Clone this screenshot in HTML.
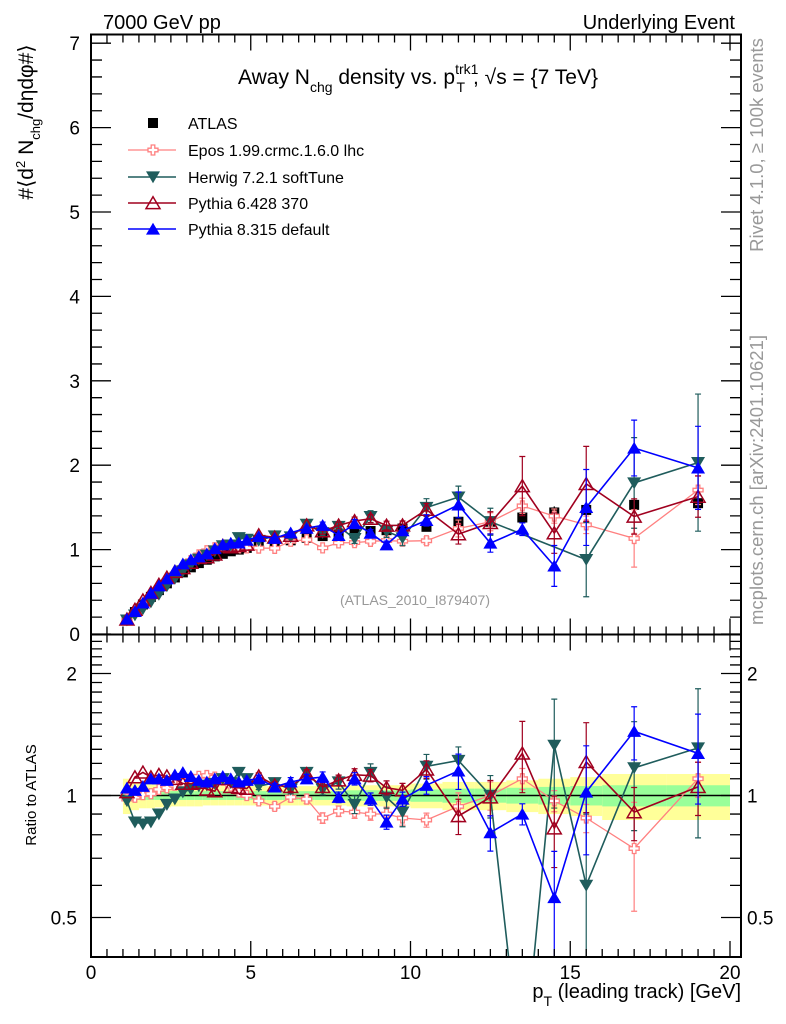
<!DOCTYPE html>
<html><head><meta charset="utf-8"><style>
html,body{margin:0;padding:0;background:#fff;overflow:hidden}
svg{display:block}
text{font-family:"Liberation Sans",sans-serif}
</style></head><body>
<svg id="chart" width="786" height="1024" viewBox="0 0 786 1024" xmlns="http://www.w3.org/2000/svg">
<defs>
<clipPath id="mainClip"><rect x="91" y="34.5" width="650" height="600"/></clipPath>
<clipPath id="ratioClip"><rect x="91" y="634" width="650" height="323"/></clipPath>
</defs>
<g id="bands"></g>
<g id="series"></g>
<g id="axes"></g>
<text x="103" y="29" font-size="20">7000 GeV pp</text>
<text x="735" y="29" font-size="20" text-anchor="end">Underlying Event</text>
<text x="418" y="84" font-size="21" text-anchor="middle">Away N<tspan font-size="14" dy="8">chg</tspan><tspan dy="-8"> density vs. p</tspan><tspan font-size="14" dy="-10">trk1</tspan><tspan font-size="14" dx="-22" dy="18">T</tspan><tspan dy="-8" dx="8">, √s = {7 TeV}</tspan></text>
<text transform="translate(33,122) rotate(-90)" font-size="21" text-anchor="middle">#⟨d<tspan font-size="13" dy="-8">2</tspan><tspan dy="8"> N</tspan><tspan font-size="13" dy="7">chg</tspan><tspan dy="-7">/dηdφ#⟩</tspan></text>
<text transform="translate(36,795) rotate(-90)" font-size="15" text-anchor="middle">Ratio to ATLAS</text>
<text x="741" y="998" font-size="20" text-anchor="end">p<tspan font-size="14" dy="8">T</tspan><tspan dy="-8"> (leading track) [GeV]</tspan></text>
<text transform="translate(763,145) rotate(-90)" font-size="18.5" fill="#999" text-anchor="middle">Rivet 4.1.0, ≥ 100k events</text>
<text transform="translate(763,480) rotate(-90)" font-size="18.5" fill="#999" text-anchor="middle">mcplots.cern.ch [arXiv:2401.10621]</text>
<text x="415" y="605" font-size="14" fill="#999" text-anchor="middle">(ATLAS_2010_I879407)</text>
<g id="legend"></g>
</svg>
<script>
const ptBins = [1.125,1.375,1.625,1.875,2.125,2.375,2.625,2.875,3.125,3.375,3.625,3.875,4.125,4.375,4.625,4.875,5.25,5.75,6.25,6.75,7.25,7.75,8.25,8.75,9.25,9.75,10.5,11.5,12.5,13.5,14.5,15.5,17,19];
const binHalfWidths = [0.125,0.125,0.125,0.125,0.125,0.125,0.125,0.125,0.125,0.125,0.125,0.125,0.125,0.125,0.125,0.125,0.25,0.25,0.25,0.25,0.25,0.25,0.25,0.25,0.25,0.25,0.5,0.5,0.5,0.5,0.5,0.5,1,1];
const atlasValues = [0.17,0.26,0.35,0.44,0.52,0.60,0.67,0.73,0.79,0.84,0.88,0.92,0.95,0.98,1.00,1.02,1.05,1.08,1.11,1.14,1.16,1.18,1.19,1.22,1.23,1.25,1.27,1.33,1.33,1.38,1.44,1.47,1.53,1.55];
const atlasTotalRelErr = [0.10,0.08,0.07,0.07,0.065,0.065,0.06,0.06,0.06,0.06,0.055,0.055,0.055,0.055,0.055,0.055,0.055,0.055,0.055,0.055,0.055,0.055,0.06,0.06,0.06,0.06,0.07,0.08,0.08,0.09,0.10,0.11,0.13,0.13];
const atlasStatRelErr = [0.03,0.025,0.025,0.025,0.025,0.025,0.025,0.025,0.025,0.025,0.025,0.025,0.025,0.025,0.025,0.025,0.025,0.025,0.025,0.025,0.025,0.025,0.03,0.03,0.03,0.03,0.035,0.04,0.04,0.045,0.05,0.055,0.06,0.06];
const eposRatio = [0.98,0.99,1.005,1.01,1.035,1.045,1.06,1.08,1.10,1.115,1.12,1.11,1.09,1.055,1.02,1.0,0.97,0.94,0.99,0.98,0.88,0.915,0.91,0.90,0.90,0.88,0.87,0.94,1.0,1.1,0.97,0.88,0.74,1.1];
const herwigRatio = [0.97,0.86,0.85,0.86,0.90,0.95,0.98,1.02,1.035,1.055,1.06,1.07,1.10,1.075,1.14,1.10,1.055,1.075,1.035,1.14,1.035,1.08,0.95,1.14,0.99,0.91,1.18,1.22,1.0,0.2,1.33,0.6,1.17,1.31];
const herwigShownInMain = [1,1,1,1,1,1,1,1,1,1,1,1,1,1,1,1,1,1,1,1,1,1,1,1,1,1,1,1,1,0,0,1,1,1];
const pythia6Ratio = [1.02,1.11,1.14,1.11,1.125,1.115,1.10,1.07,1.07,1.075,1.035,1.025,1.10,1.05,1.045,1.04,1.115,1.06,1.05,1.13,1.05,1.09,1.125,1.12,1.045,1.03,1.16,0.89,0.99,1.27,0.83,1.21,0.91,1.05];
const pythia8Ratio = [1.044,1.03,1.054,1.10,1.10,1.09,1.125,1.14,1.115,1.09,1.08,1.10,1.115,1.10,1.08,1.09,1.10,1.05,1.08,1.10,1.11,0.99,1.10,0.98,0.86,0.98,1.06,1.15,0.81,0.9,0.56,1.02,1.44,1.27];
const eposRelErr = [0.015,0.015,0.015,0.015,0.015,0.015,0.015,0.015,0.015,0.015,0.015,0.015,0.015,0.015,0.015,0.015,0.02,0.02,0.025,0.025,0.03,0.03,0.035,0.035,0.04,0.04,0.04,0.08,0.08,0.06,0.06,0.08,0.3,0.1];
const herwigRelErr = [0.015,0.015,0.015,0.015,0.015,0.015,0.015,0.015,0.015,0.015,0.015,0.015,0.015,0.015,0.015,0.015,0.02,0.02,0.025,0.025,0.03,0.04,0.05,0.05,0.06,0.08,0.07,0.08,0.12,0.3,0.3,0.5,0.3,0.4];
const pythia6RelErr = [0.015,0.015,0.015,0.015,0.015,0.015,0.015,0.015,0.015,0.015,0.015,0.015,0.015,0.015,0.015,0.015,0.02,0.02,0.025,0.025,0.03,0.03,0.035,0.035,0.04,0.04,0.05,0.1,0.1,0.2,0.2,0.25,0.15,0.15];
const pythia8RelErr = [0.015,0.015,0.015,0.015,0.015,0.015,0.015,0.015,0.015,0.015,0.015,0.015,0.015,0.015,0.015,0.015,0.02,0.02,0.025,0.025,0.03,0.03,0.035,0.035,0.04,0.04,0.05,0.1,0.1,0.06,0.3,0.3,0.15,0.25];
const xTickLabels = ["0","5","10","15","20"];
const yTickLabels = ["0","1","2","3","4","5","6","7"];
const ratioTickLabels = ["0.5","1","2"];

const NS = "http://www.w3.org/2000/svg";
const X0 = 91, XS = 31.95, Y0 = 634, YS = 84.4, R1 = 795.5, RS = 122;
const xPos = p => X0 + p * XS;
const yMain = v => Y0 - v * YS;
const yRatio = r => R1 - RS * Math.log2(Math.max(r, 0.01));
function mk(tag, attrs, parent) {
  const e = document.createElementNS(NS, tag);
  for (const k in attrs) e.setAttribute(k, attrs[k]);
  parent.appendChild(e);
  return e;
}
const bands = document.getElementById('bands');
const series = document.getElementById('series');
const axes = document.getElementById('axes');
const legend = document.getElementById('legend');

for (let i = 0; i < ptBins.length; i++) {
  const x1 = xPos(ptBins[i] - binHalfWidths[i]), x2 = xPos(ptBins[i] + binHalfWidths[i]);
  const y1 = yRatio(1 + atlasTotalRelErr[i]), y2 = yRatio(1 - atlasTotalRelErr[i]);
  const b = mk('rect', {x: x1, y: y1, width: x2 - x1, height: y2 - y1, fill: '#ffff99'}, bands);
  
  
  const g1 = yRatio(1 + atlasStatRelErr[i]), g2 = yRatio(1 - atlasStatRelErr[i]);
  const g = mk('rect', {x: x1, y: g1, width: x2 - x1, height: g2 - g1, fill: '#99ff99'}, bands);
  
  
}
const one = mk('line', {x1: 91, x2: 741, y1: yRatio(1), y2: yRatio(1), stroke: '#000', 'stroke-width': 1.5}, bands);



function marker(parent, type, x, y, color, s) {
  let e;
  if (type === 'square') e = mk('rect', {x: x - 5, y: y - 5, width: 10, height: 10, fill: '#000'}, parent);
  else if (type === 'cross') e = mk('path', {d: `M${x-1.8},${y-5}h3.6v3.2h3.2v3.6h-3.2v3.2h-3.6v-3.2h-3.2v-3.6h3.2z`, fill: '#fff', stroke: color, 'stroke-width': 1.3}, parent);
  else if (type === 'down') e = mk('path', {d: `M${x-s},${y-s*0.8}L${x+s},${y-s*0.8}L${x},${y+s*0.9}Z`, fill: color}, parent);
  else if (type === 'openup') e = mk('path', {d: `M${x-s},${y+s*0.8}L${x+s},${y+s*0.8}L${x},${y-s*0.9}Z`, fill: 'none', stroke: color, 'stroke-width': 1.5}, parent);
  else e = mk('path', {d: `M${x-s},${y+s*0.8}L${x+s},${y+s*0.8}L${x},${y-s*0.9}Z`, fill: color}, parent);
  
  
}

const models = [
  {name: 'epos', label: 'Epos 1.99.crmc.1.6.0 lhc', color: '#ff8080', type: 'cross', ratio: eposRatio, err: eposRelErr, w: 1.3, mask: null},
  {name: 'herwig', label: 'Herwig 7.2.1 softTune', color: '#1f5c5c', type: 'down', ratio: herwigRatio, err: herwigRelErr, w: 1.6, mask: herwigShownInMain},
  {name: 'pythia6', label: 'Pythia 6.428 370', color: '#a0001f', type: 'openup', ratio: pythia6Ratio, err: pythia6RelErr, w: 1.6, mask: null},
  {name: 'pythia8', label: 'Pythia 8.315 default', color: '#0000ff', type: 'up', ratio: pythia8Ratio, err: pythia8RelErr, w: 1.6, mask: null}
];

const atlasG = mk('g', {'clip-path': 'url(#mainClip)'}, series);


for (let i = 0; i < ptBins.length; i++) {
  const x = xPos(ptBins[i]), v = atlasValues[i];
  const eb = mk('line', {x1: x, x2: x, y1: yMain(v * (1 + atlasStatRelErr[i])), y2: yMain(v * (1 - atlasStatRelErr[i])), stroke: '#000', 'stroke-width': 1.2}, atlasG);
  
  
  marker(atlasG, 'square', x, yMain(v), '#000', 6);
}

function drawModel(m, panel) {
  const g = mk('g', {'clip-path': panel === 'main' ? 'url(#mainClip)' : 'url(#ratioClip)'}, series);
  
  
  const val = i => panel === 'main' ? yMain(m.ratio[i] * atlasValues[i]) : yRatio(m.ratio[i]);
  const lo = i => panel === 'main' ? yMain(m.ratio[i] * atlasValues[i] * (1 - m.err[i])) : yRatio(m.ratio[i] * (1 - m.err[i]));
  const hi = i => panel === 'main' ? yMain(m.ratio[i] * atlasValues[i] * (1 + m.err[i])) : yRatio(m.ratio[i] * (1 + m.err[i]));
  const shown = i => panel !== 'main' || !m.mask || m.mask[i];
  let d = '', first = true;
  for (let i = 0; i < ptBins.length; i++) {
    if (!shown(i)) continue;
    d += (first ? 'M' : 'L') + xPos(ptBins[i]).toFixed(1) + ',' + val(i).toFixed(1);
    first = false;
  }
  const line = mk('path', {d: d, fill: 'none', stroke: m.color, 'stroke-width': m.w}, g);
  
  
  for (let i = 0; i < ptBins.length; i++) {
    if (!shown(i)) continue;
    const x = xPos(ptBins[i]);
    const y1 = hi(i), y2 = lo(i);
    if (y2 - y1 > 6) {
      const eb = mk('path', {d: `M${x},${y1}V${y2}M${x-3},${y1}h6M${x-3},${y2}h6`, stroke: m.color, 'stroke-width': 1.2, fill: 'none'}, g);
      
      
    }
    marker(g, m.type, x, val(i), m.color, 7);
  }
}
for (const m of models) { drawModel(m, 'main'); }
for (const m of models) { drawModel(m, 'ratio'); }

const f1 = mk('rect', {x: 91, y: 34.5, width: 650, height: 600, fill: 'none', stroke: '#000', 'stroke-width': 2}, axes);


const f2 = mk('rect', {x: 91, y: 634.5, width: 650, height: 322.5, fill: 'none', stroke: '#000', 'stroke-width': 2}, axes);



for (let k = 0; k <= 40; k++) {
  const p = k * 0.5, x = xPos(p), major = k % 10 === 0;
  const L = major ? 16 : 8;
  for (const [yb, yt] of [[634.5, 34.5], [957, 634.5]]) {
    const t = mk('path', {d: `M${x},${yb}v${-L}M${x},${yt}v${L}`, stroke: '#000', 'stroke-width': 1.3}, axes);
    
    
  }
}
xTickLabels.forEach((lab, i) => {
  const t = mk('text', {x: xPos(i * 5), y: 979, 'font-size': 19, 'text-anchor': 'middle'}, axes);
  t.textContent = lab;
  
  
});
for (let k = 0; k <= 35; k++) {
  const v = k * 0.2, y = yMain(v), major = k % 5 === 0;
  const L = major ? 20 : 11;
  const t = mk('path', {d: `M91,${y}h${L}M741,${y}h${-L}`, stroke: '#000', 'stroke-width': 1.3}, axes);
  
  
}
yTickLabels.forEach((lab, i) => {
  const t = mk('text', {x: 80, y: yMain(i) + 7, 'font-size': 19, 'text-anchor': 'end'}, axes);
  t.textContent = lab;
  
  
});
for (let k = 4; k <= 24; k++) {
  const r = k / 10, y = yRatio(r);
  if (y < 636 || y > 956) continue;
  const major = (k === 5 || k === 10 || k === 20);
  const L = major ? 20 : 11;
  const t = mk('path', {d: `M91,${y}h${L}M741,${y}h${-L}`, stroke: '#000', 'stroke-width': 1.3}, axes);
  
  
}
ratioTickLabels.forEach(lab => {
  const y = yRatio(parseFloat(lab)) + 7;
  const t = mk('text', {x: 77, y: y, 'font-size': 19, 'text-anchor': 'end'}, axes);
  t.textContent = lab;
  
  
  const t2 = mk('text', {x: 747, y: y, 'font-size': 19, 'text-anchor': 'start'}, axes);
  t2.textContent = lab;
  
  
});

const legY = [123, 150, 177, 203, 229];
const la = mk('rect', {x: 148, y: legY[0] - 5, width: 10, height: 10, fill: '#000'}, legend);


const lt = mk('text', {x: 188, y: legY[0] + 6, 'font-size': 16}, legend);
lt.textContent = 'ATLAS';


models.forEach((m, i) => {
  const y = legY[i + 1];
  const l = mk('line', {x1: 128, x2: 176, y1: y, y2: y, stroke: m.color, 'stroke-width': m.w}, legend);
  
  
  marker(legend, m.type, 153, y, m.color, 7);
  const t = mk('text', {x: 188, y: y + 6, 'font-size': 16}, legend);
  t.textContent = m.label;
  
  
});
</script>
</body></html>
